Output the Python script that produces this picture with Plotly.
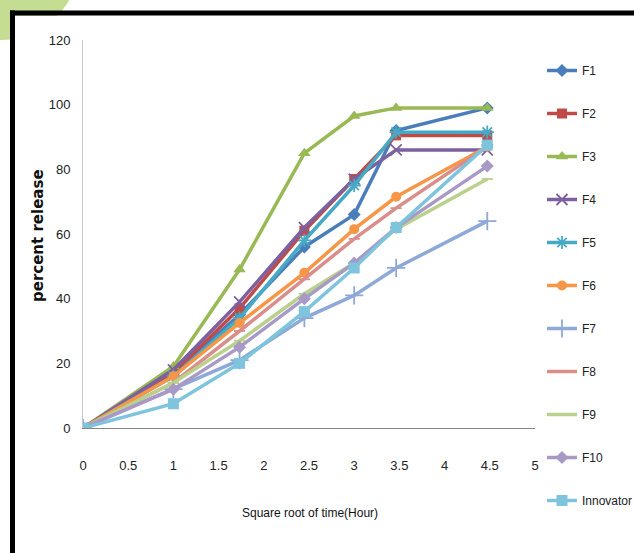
import plotly.graph_objects as go

# ---- data ----
x_sqrt_time = [0, 1, 1.732, 2.449, 3, 3.464, 4.472]
series_names = ["F1", "F2", "F3", "F4", "F5", "F6", "F7", "F8", "F9", "F10", "Innovator"]
F1 = [0, 17, 35, 56, 66, 92, 99]
F2 = [0, 17, 37, 61, 77, 90.5, 90.5]
F3 = [0, 19, 49, 85, 96.5, 99, 99]
F4 = [0, 18, 39, 62, 77, 86, 86]
F5 = [0, 16, 34, 58, 75, 91.5, 91.5]
F6 = [0, 16, 32.5, 48, 61.5, 71.5, 87]
F7 = [0, 12, 21, 34, 41, 49.5, 64]
F8 = [0, 14, 30, 46, 58.5, 68, 87]
F9 = [0, 14, 27, 41.5, 51, 61.5, 77]
F10 = [0, 12, 25, 40, 51, 62, 81]
Innovator = [0, 7.5, 20, 36, 49.5, 62, 87.5]
values = [F1, F2, F3, F4, F5, F6, F7, F8, F9, F10, Innovator]
x_ticks = [0, 0.5, 1, 1.5, 2, 2.5, 3, 3.5, 4, 4.5, 5]
y_ticks = [0, 20, 40, 60, 80, 100, 120]

# ---- styles ----
colors = ["#4A7EBB", "#BE4B48", "#98B954", "#7D60A0", "#46AAC5", "#F79646",
          "#8EA8D8", "#DA8E8B", "#B9D18C", "#A899C7", "#7EC4DC"]
symbols = ["diamond", "square", "triangle-up", "x-thin-open", "asterisk-open", "circle",
           "cross-thin-open", "line-ew-open", "line-ew-open", "diamond", "square"]
sizes = [10, 10, 11, 11, 11, 10, 13, 8, 8, 10, 11]

W, H = 634, 553
L, R, T, B = 83, 535, 40, 428


def px_x(p):
    return (p - L) / (R - L)


def px_y(p):
    return (B - p) / (B - T)


fig = go.Figure()
for name, vals, c, s, sz in zip(series_names, values, colors, symbols, sizes):
    open_sym = s.endswith("-open")
    fig.add_trace(go.Scatter(
        x=x_sqrt_time, y=vals, name=name, legendgroup=name,
        mode="lines+markers",
        line=dict(color=c, width=3.5),
        marker=dict(symbol=s, size=sz, color=c,
                    line=dict(color=c, width=1.8 if open_sym else 0)),
    ))

font_narrow = "Liberation Sans Narrow, Arial Narrow, Liberation Sans, Arial, sans-serif"

fig.update_layout(
    width=W, height=H,
    margin=dict(l=L, r=W - R, t=T, b=H - B, pad=0, autoexpand=False),
    paper_bgcolor="white", plot_bgcolor="white",
    showlegend=True,
    legend=dict(
        xref="container", yref="container",
        x=542 / W, y=1 - 56 / H, xanchor="left", yanchor="top",
        font=dict(family=font_narrow, size=12, color="#222"),
        tracegroupgap=24, bgcolor="rgba(0,0,0,0)",
        maxheight=530,
    ),
    xaxis=dict(
        range=[0, 5], tickvals=x_ticks, ticktext=[str(v) for v in x_ticks],
        showgrid=False, zeroline=False, showline=True, linecolor="#868686", linewidth=1,
        ticks="", tickfont=dict(family=font_narrow, size=13, color="#222"),
        ticklabelstandoff=25,
    ),
    yaxis=dict(
        range=[0, 120], tickvals=y_ticks,
        showgrid=False, zeroline=False, showline=True, linecolor="#C8C8C8", linewidth=1,
        ticks="", tickfont=dict(family=font_narrow, size=13, color="#222"),
        ticklabelstandoff=9,
    ),
    annotations=[
        dict(text="Square root of time(Hour)", xref="paper", yref="paper",
             x=px_x(310), y=px_y(513), showarrow=False,
             xanchor="center", yanchor="middle",
             font=dict(family=font_narrow, size=12, color="#111")),
        dict(text="<b>percent release</b>", xref="paper", yref="paper",
             x=px_x(38), y=px_y(236), showarrow=False, textangle=-90,
             xanchor="center", yanchor="middle",
             font=dict(family="DejaVu Sans, sans-serif", size=15, color="#111")),
    ],
    shapes=[
        dict(type="circle", xref="paper", yref="paper", layer="below",
             x0=px_x(-80), x1=px_x(80), y0=px_y(-120), y1=px_y(40),
             fillcolor="#C5DD92", line=dict(width=0)),
        dict(type="rect", xref="paper", yref="paper", layer="below",
             x0=px_x(15), x1=px_x(700), y0=px_y(16), y1=px_y(620),
             fillcolor="white", line=dict(width=0)),
        dict(type="line", xref="paper", yref="paper", layer="above",
             x0=px_x(12.5), x1=px_x(12.5), y0=px_y(10.5), y1=px_y(600),
             line=dict(color="black", width=5)),
        dict(type="line", xref="paper", yref="paper", layer="above",
             x0=px_x(10), x1=px_x(700), y0=px_y(13), y1=px_y(13),
             line=dict(color="black", width=5)),
    ],
)

fig.write_html("out.html")
